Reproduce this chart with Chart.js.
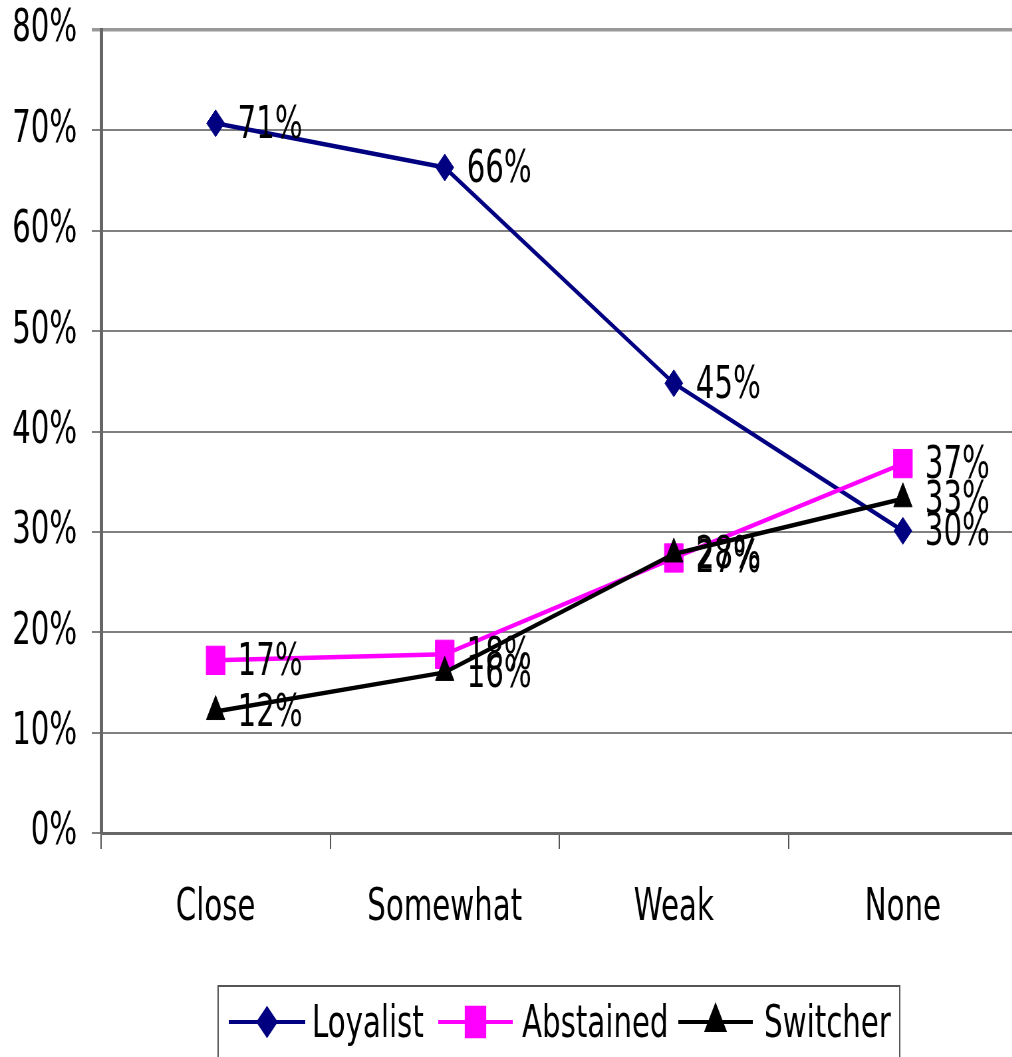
<!DOCTYPE html>
<html>
<head>
<meta charset="utf-8">
<script src="https://cdn.jsdelivr.net/npm/chart.js@4/dist/chart.umd.min.js"></script>
<style>
  html, body { margin: 0; padding: 0; background: #fff; overflow: hidden; }
  /* The drawing is laid out wide and then narrowed, giving the tall, condensed look */
  #wrap { width: 1551px; height: 1057px; transform: scaleX(0.665); transform-origin: 0 0; }
</style>
</head>
<body>
<div id="wrap"><canvas id="c" width="1551" height="1057"></canvas></div>
<script>
// Party attachment categories
const categories = ['Close', 'Somewhat', 'Weak', 'None'];

// Share of voters in each group (percent)
const loyalist  = [70.7, 66.3, 44.8, 30.1];
const abstained = [17.2, 17.8, 27.4, 36.8];
const switcher  = [12.1, 16.0, 27.8, 33.3];

const seriesNames = ['Loyalist', 'Abstained', 'Switcher'];
const yTicks = [0, 10, 20, 30, 40, 50, 60, 70, 80];

const FONT = '"DejaVu Sans", "Liberation Sans", sans-serif';
const FONT_SIZE = 44;

const styles = [
  { color: '#000080', pointStyle: 'rectRot',  radius: 13.5 },
  { color: '#FF00FF', pointStyle: 'rect',     radius: 20 },
  { color: '#000000', pointStyle: 'triangle', radius: 16 }
];

function makeDataset(label, data, st, order) {
  return {
    label, data,
    borderColor: st.color,
    backgroundColor: st.color,
    borderWidth: 4.5,
    pointStyle: st.pointStyle,
    pointRadius: st.radius,
    pointHoverRadius: st.radius,
    pointBackgroundColor: st.color,
    pointBorderColor: st.color,
    pointBorderWidth: 1,
    tension: 0,
    order
  };
}

// Percentage labels to the right of each point
const valueLabels = {
  id: 'valueLabels',
  afterDatasetsDraw(chart) {
    const ctx = chart.ctx;
    ctx.save();
    ctx.font = FONT_SIZE + 'px ' + FONT;
    ctx.fillStyle = '#000';
    ctx.textAlign = 'left';
    ctx.textBaseline = 'middle';
    chart.data.datasets.forEach((ds, i) => {
      const meta = chart.getDatasetMeta(i);
      meta.data.forEach((pt, j) => {
        ctx.fillText(Math.round(ds.data[j]) + '%', pt.x + 33, pt.y + 3);
      });
    });
    ctx.restore();
  }
};

// Boxed legend with a line-and-marker sample per series
const lineLegend = {
  id: 'lineLegend',
  afterDraw(chart) {
    const ctx = chart.ctx;
    ctx.save();
    ctx.strokeStyle = '#555';
    ctx.lineWidth = 2;
    ctx.strokeRect(328, 986, 1025, 120);

    const items = [
      { x0: 344,  x1: 459,  text: 469 },
      { x0: 659,  x1: 771,  text: 785 },
      { x0: 1020, x1: 1132, text: 1149 }
    ];
    const y = 1022;
    items.forEach((it, i) => {
      const st = styles[i];
      ctx.strokeStyle = st.color;
      ctx.fillStyle = st.color;
      ctx.lineWidth = 4;
      ctx.beginPath();
      ctx.moveTo(it.x0, y);
      ctx.lineTo(it.x1, y);
      ctx.stroke();
      Chart.helpers.drawPoint(ctx, {
        pointStyle: st.pointStyle, radius: st.radius, rotation: 0, borderWidth: 1
      }, (it.x0 + it.x1) / 2, y);
      ctx.fillStyle = '#000';
      ctx.font = FONT_SIZE + 'px ' + FONT;
      ctx.textAlign = 'left';
      ctx.textBaseline = 'middle';
      ctx.fillText(seriesNames[i], it.text, y + 4);
    });
    ctx.restore();
  }
};

new Chart(document.getElementById('c'), {
  type: 'line',
  data: {
    labels: categories,
    datasets: [
      makeDataset(seriesNames[0], loyalist,  styles[0], 2),
      makeDataset(seriesNames[1], abstained, styles[1], 1),
      makeDataset(seriesNames[2], switcher,  styles[2], 0)
    ]
  },
  options: {
    responsive: false,
    devicePixelRatio: 1,
    animation: false,
    events: [],
    layout: { padding: { top: 30, right: 0, bottom: 0, left: 0 } },
    plugins: {
      legend: { display: false },
      tooltip: { enabled: false }
    },
    scales: {
      x: {
        offset: true,
        grid: {
          offset: true,
          drawOnChartArea: false,
          drawTicks: true,
          tickLength: 16,
          color: '#555',
          lineWidth: 2
        },
        border: { display: true, color: '#666', width: 3 },
        ticks: {
          color: '#000',
          font: { family: FONT, size: FONT_SIZE },
          padding: 33,
          maxRotation: 0
        },
        afterFit(scale) {
          scale.height = 224;
          scale.paddingLeft = 0;
          scale.paddingRight = 0;
        }
      },
      y: {
        min: 0,
        max: 80,
        afterBuildTicks(scale) { scale.ticks = yTicks.map(v => ({ value: v })); },
        grid: {
          color: (c) => c.tick && c.tick.value === 80 ? '#999' : '#808080',
          lineWidth: (c) => c.tick && c.tick.value === 80 ? 3.5 : 2,
          tickLength: 14,
          drawTicks: true
        },
        border: { display: true, color: '#666', width: 5 },
        ticks: {
          color: '#000',
          font: { family: FONT, size: FONT_SIZE },
          padding: 22,
          callback: (v) => v + '%'
        },
        afterFit(scale) {
          scale.width = 152;
          scale.paddingTop = 0;
          scale.paddingBottom = 0;
        }
      }
    }
  },
  plugins: [valueLabels, lineLegend]
});
</script>
</body>
</html>
